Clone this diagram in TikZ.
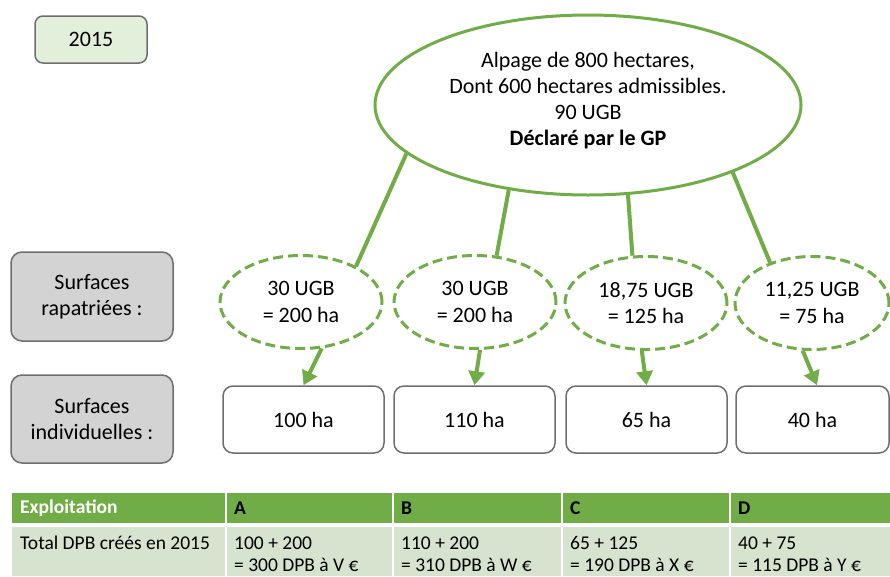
\documentclass[tikz,border=0pt]{standalone}
\usepackage{fontspec}
\setmainfont{Carlito}
\usetikzlibrary{shapes.geometric,arrows.meta}
\definecolor{ggreen}{HTML}{70AD47}
\definecolor{lgreen}{HTML}{E2EFDA}
\definecolor{rowgreen}{HTML}{D5E3CF}
\definecolor{bordergray}{HTML}{6E6E6E}
\definecolor{boxgray}{HTML}{D3D3D3}
\tikzset{
  big/.style={font=\fontsize{22}{26.2}\selectfont},
  small/.style={font=\fontsize{19.5}{22}\selectfont},
  yearbox/.style={draw=bordergray, line width=1.5pt, fill=lgreen, rounded corners=8pt, minimum width=112pt, minimum height=47pt, inner sep=0pt, big},
  bigell/.style={ellipse, draw=ggreen, line width=3pt, fill=white, minimum width=426pt, minimum height=180pt, inner sep=0pt, align=center, big},
  dashell/.style={ellipse, draw=ggreen, line width=3pt, dash pattern=on 10pt off 5pt, fill=white, minimum width=162pt, minimum height=93pt, inner sep=0pt, align=center, big},
  whitebox/.style={draw=bordergray, line width=1.5pt, fill=white, rounded corners=10pt, minimum width=161pt, minimum height=67pt, inner sep=0pt, big},
  graybox/.style={draw=bordergray, line width=1.5pt, fill=boxgray, rounded corners=11pt, minimum width=162pt, minimum height=89pt, inner sep=0pt, align=center, big},
  conn/.style={draw=ggreen, line width=4pt},
  arr/.style={draw=ggreen, line width=4pt, -{Triangle[length=14pt,width=16pt]}},
  headcell/.style={fill=ggreen, anchor=north west, minimum height=30pt, inner sep=0pt},
  rowcell/.style={fill=rowgreen, anchor=north west, minimum height=49pt, inner sep=0pt},
  celltext/.style={anchor=west, inner sep=0pt, align=left, small}
}
\begin{document}
\begin{tikzpicture}[x=1pt,y=1pt]
\useasboundingbox (0,0) rectangle (890,-576);

\node[bigell] (big) at (588,-105) {\\[-20pt]Alpage de 800 hectares,\\Dont 600 hectares admissibles.\\90 UGB\\\textbf{Déclaré par le GP}};
\node[dashell] (e1) at (301,-302) {30 UGB\\= 200 ha};
\node[dashell] (e2) at (475,-302) {30 UGB\\= 200 ha};
\node[dashell] (e3) at (646,-303) {18,75 UGB\\= 125 ha};
\node[dashell, minimum width=154pt] (e4) at (812,-303) {11,25 UGB\\= 75 ha};

\draw[conn] (big.195.5) -- (e1.33);
\draw[conn] (big.227.3) -- (e2.65);
\draw[conn] (big.294.3) -- (e3.106);
\draw[conn] (big.335) -- (e4.136);

\node[yearbox] (year) at (91,-39.5) {2015};

\node[graybox] (g1) at (92,-296.5) {Surfaces\\rapatriées :};
\node[graybox, minimum height=88pt] (g2) at (92,-419) {Surfaces\\individuelles :};

\node[whitebox] (b1) at (303.5,-419.5) {100 ha};
\node[whitebox] (b2) at (474.5,-419.5) {110 ha};
\node[whitebox] (b3) at (646.5,-419.5) {65 ha};
\node[whitebox, minimum width=153pt] (b4) at (812.5,-419.5) {40 ha};

\draw[arr] (e1.294) -- (b1.north);
\draw[arr] (e2.276) -- (b2.north);
\draw[arr] (e3.265) -- (b3.north);
\draw[arr] (e4.259) -- ([xshift=4.5pt]b4.north);

% table
\node[headcell, minimum width=213pt] (h0) at (12,-493) {};
\node[headcell, minimum width=165pt] (h1) at (227,-493) {};
\node[headcell, minimum width=167pt] (h2) at (394,-493) {};
\node[headcell, minimum width=166pt] (h3) at (563,-493) {};
\node[headcell, minimum width=159pt] (h4) at (731,-493) {};
\node[rowcell, minimum width=213pt] (r0) at (12,-527) {};
\node[rowcell, minimum width=165pt] (r1) at (227,-527) {};
\node[rowcell, minimum width=167pt] (r2) at (394,-527) {};
\node[rowcell, minimum width=166pt] (r3) at (563,-527) {};
\node[rowcell, minimum width=159pt] (r4) at (731,-527) {};

\node[celltext, text=white] (th0) at (20,-508) {\textbf{Exploitation}};
\node[celltext] (th1) at (234,-508) {\textbf{A}};
\node[celltext] (th2) at (401,-508) {\textbf{B}};
\node[celltext] (th3) at (570,-508) {\textbf{C}};
\node[celltext] (th4) at (738,-508) {\textbf{D}};
\node[celltext] (tr0) at (20,-543) {Total DPB créés en 2015};
\node[celltext] (tr1) at (234,-554) {100 + 200\\= 300 DPB à V €};
\node[celltext] (tr2) at (401,-554) {110 + 200\\= 310 DPB à W €};
\node[celltext] (tr3) at (570,-554) {65 + 125\\= 190 DPB à X €};
\node[celltext] (tr4) at (738,-554) {40 + 75\\= 115 DPB à Y €};
\end{tikzpicture}
\end{document}
